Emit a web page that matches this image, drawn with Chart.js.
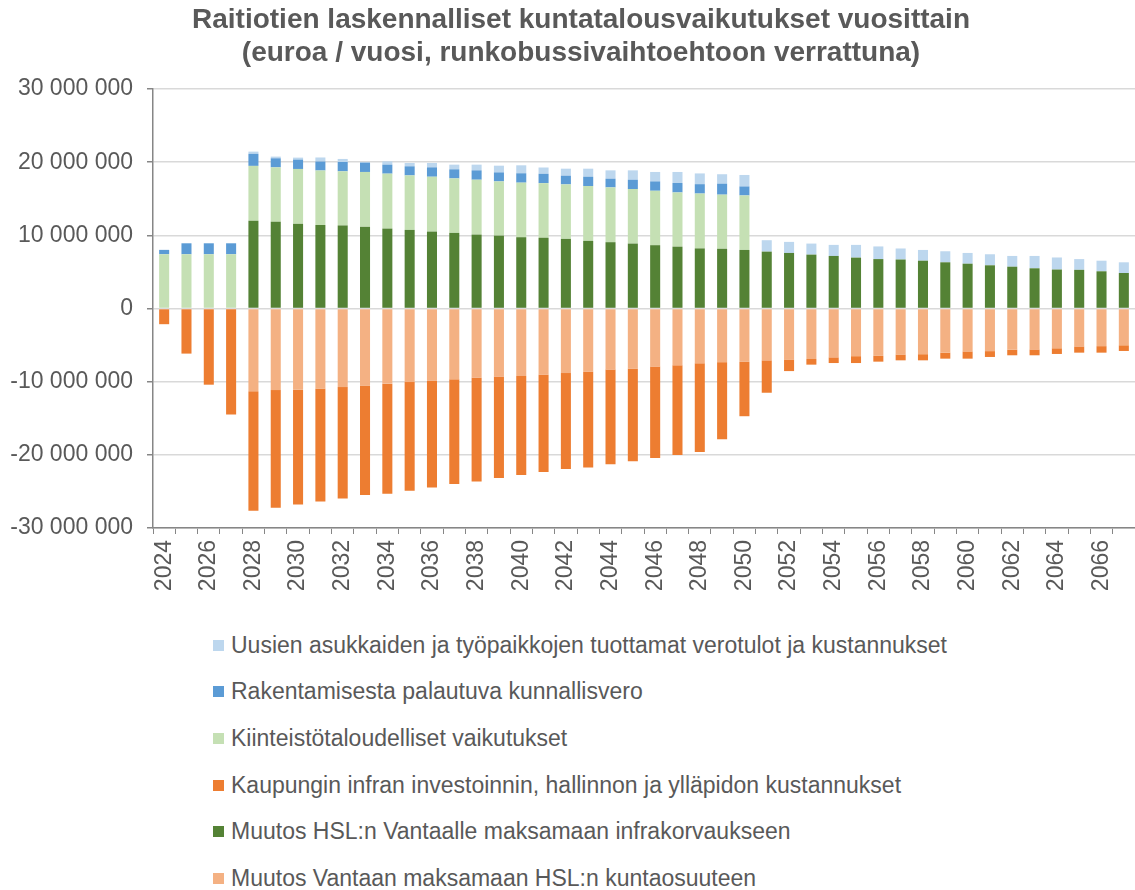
<!DOCTYPE html>
<html>
<head>
<meta charset="utf-8">
<script src="https://cdn.jsdelivr.net/npm/chart.js@4"></script>
<style>
  body { margin: 0; background: #fff; }
  #wrap { position: relative; width: 1135px; height: 890px; }
  #chart { position: absolute; left: 0; top: 0; }
  .leg { position: absolute; left: 0; font: 23px "Liberation Sans", Arial, sans-serif; color: #595959; white-space: nowrap; line-height: 26px; }
  .leg i { position: absolute; top: 8px; width: 11px; height: 11px; }
  .leg span { position: absolute; top: 0; }
</style>
</head>
<body>
<div id="wrap">
  <canvas id="chart" width="1135" height="610"></canvas>
  <div id="legend"></div>
</div>
<script>
const years = ['2024', '2025', '2026', '2027', '2028', '2029', '2030', '2031', '2032', '2033',
    '2034', '2035', '2036', '2037', '2038', '2039', '2040', '2041', '2042', '2043',
    '2044', '2045', '2046', '2047', '2048', '2049', '2050', '2051', '2052', '2053',
    '2054', '2055', '2056', '2057', '2058', '2059', '2060', '2061', '2062', '2063',
    '2064', '2065', '2066', '2067'];

// euroa / vuosi
const infrakorvaus = [0, 0, 0, 0,
    12.0e6, 11.85e6, 11.58e6, 11.42e6, 11.36e6, 11.17e6, 10.93e6, 10.75e6, 10.52e6, 10.34e6,
    10.11e6, 9.97e6, 9.75e6, 9.68e6, 9.52e6, 9.25e6, 9.07e6, 8.88e6, 8.66e6, 8.46e6,
    8.22e6, 8.17e6, 8.01e6,
    7.78e6, 7.6e6, 7.37e6, 7.19e6, 6.96e6, 6.76e6, 6.7e6, 6.54e6, 6.32e6, 6.13e6,
    5.91e6, 5.72e6, 5.5e6, 5.33e6, 5.29e6, 5.09e6, 4.86e6];
const kiinteisto = [7.42e6, 7.42e6, 7.42e6, 7.42e6,
    7.5e6, 7.45e6, 7.5e6, 7.45e6, 7.4e6, 7.5e6, 7.51e6, 7.45e6, 7.5e6, 7.45e6,
    7.5e6, 7.41e6, 7.46e6, 7.46e6, 7.45e6, 7.5e6, 7.49e6, 7.46e6, 7.44e6, 7.41e6,
    7.5e6, 7.4e6, 7.45e6,
    0, 0, 0, 0, 0, 0, 0, 0, 0, 0, 0, 0, 0, 0, 0, 0, 0];
const rakentaminen = [0.6e6, 1.5e6, 1.5e6, 1.5e6,
    1.65e6, 1.24e6, 1.28e6, 1.23e6, 1.27e6, 1.27e6, 1.23e6, 1.24e6, 1.28e6, 1.24e6,
    1.28e6, 1.23e6, 1.28e6, 1.28e6, 1.19e6, 1.27e6, 1.19e6, 1.27e6, 1.28e6, 1.29e6,
    1.28e6, 1.5e6, 1.23e6,
    0, 0, 0, 0, 0, 0, 0, 0, 0, 0, 0, 0, 0, 0, 0, 0, 0];
const uudetAsukkaat = [0, 0, 0, 0,
    0.3e6, 0.23e6, 0.27e6, 0.55e6, 0.42e6, 0.1e6, 0.45e6, 0.46e6, 0.6e6, 0.64e6,
    0.78e6, 0.92e6, 1.09e6, 0.86e6, 0.96e6, 1.1e6, 1.14e6, 1.28e6, 1.29e6, 1.51e6,
    1.47e6, 1.29e6, 1.57e6,
    1.56e6, 1.51e6, 1.51e6, 1.51e6, 1.74e6, 1.73e6, 1.51e6, 1.47e6, 1.51e6, 1.47e6,
    1.51e6, 1.47e6, 1.69e6, 1.65e6, 1.47e6, 1.45e6, 1.46e6];
const kuntaosuus = [0, 0, 0, 0,
    -11.29e6, -11.15e6, -11.1e6, -10.92e6, -10.74e6, -10.51e6, -10.27e6, -10.05e6, -9.82e6, -9.68e6,
    -9.41e6, -9.3e6, -9.22e6, -9.0e6, -8.82e6, -8.59e6, -8.35e6, -8.18e6, -7.94e6, -7.76e6,
    -7.49e6, -7.33e6, -7.29e6,
    -7.08e6, -6.96e6, -6.9e6, -6.67e6, -6.51e6, -6.47e6, -6.28e6, -6.24e6, -6.03e6, -5.86e6,
    -5.82e6, -5.63e6, -5.59e6, -5.43e6, -5.18e6, -5.14e6, -5.02e6];
const infraKustannukset = [-2.14e6, -6.16e6, -10.41e6, -14.49e6,
    -16.36e6, -16.09e6, -15.69e6, -15.46e6, -15.23e6, -14.99e6, -15.05e6, -14.86e6, -14.64e6, -14.31e6,
    -14.22e6, -13.87e6, -13.54e6, -13.35e6, -13.11e6, -13.13e6, -12.95e6, -12.71e6, -12.49e6, -12.25e6,
    -12.11e6, -10.54e6, -7.43e6,
    -4.43e6, -1.59e6, -0.77e6, -0.78e6, -0.94e6, -0.79e6, -0.8e6, -0.84e6, -0.82e6, -0.99e6,
    -0.8e6, -0.76e6, -0.8e6, -0.78e6, -0.85e6, -0.89e6, -0.78e6];

// stack order: first dataset sits next to the zero line
const series = [
    { label: 'Muutos HSL:n Vantaalle maksamaan infrakorvaukseen', data: infrakorvaus, color: '#548235' },
    { label: 'Kiinteistötaloudelliset vaikutukset', data: kiinteisto, color: '#c5e0b4' },
    { label: 'Rakentamisesta palautuva kunnallisvero', data: rakentaminen, color: '#5b9bd5' },
    { label: 'Uusien asukkaiden ja työpaikkojen tuottamat verotulot ja kustannukset', data: uudetAsukkaat, color: '#bdd7ee' },
    { label: 'Muutos Vantaan maksamaan HSL:n kuntaosuuteen', data: kuntaosuus, color: '#f4b183' },
    { label: 'Kaupungin infran investoinnin, hallinnon ja ylläpidon kustannukset', data: infraKustannukset, color: '#ed7d31' },
];
// legend order as in the original figure
const legendOrder = [3, 2, 1, 5, 0, 4];

const FONT = '"Liberation Sans", Arial, sans-serif';
const TEXT = '#595959';
const AXIS = '#868686';

function fmt(v) {
    return String(v).replace(/\B(?=(\d{3})+(?!\d))/g, ' ');
}

// original title sits a bit right of the canvas centre
const titleNudge = {
    id: 'titleNudge',
    afterLayout(chart) {
        if (chart.titleBlock) chart.titleBlock.left = 27;
    },
};

new Chart(document.getElementById('chart'), {
    type: 'bar',
    data: {
        labels: years,
        datasets: series.map(s => ({
            label: s.label,
            data: s.data,
            backgroundColor: s.color,
            borderWidth: 0,
            barPercentage: 0.45,
            categoryPercentage: 1,
        })),
    },
    plugins: [titleNudge],
    options: {
        responsive: false,
        animation: false,
        layout: { padding: 0 },
        plugins: {
            legend: { display: false },
            tooltip: { enabled: false },
            title: {
                display: true,
                text: ['Raitiotien laskennalliset kuntatalousvaikutukset vuosittain',
                    '(euroa / vuosi, runkobussivaihtoehtoon verrattuna)'],
                color: TEXT,
                font: { family: FONT, size: 28, weight: 'bold', lineHeight: 1.18 },
                padding: { top: 4, bottom: 19 },
            },
        },
        scales: {
            x: {
                stacked: true,
                // plot runs right up to the canvas edge like the original
                afterFit: (scale) => { scale.height = 82; scale.paddingRight = 0; scale.paddingLeft = 0; },
                grid: { offset: true, drawOnChartArea: false, tickLength: 6, tickColor: AXIS },
                border: { color: AXIS, width: 1.5 },
                ticks: {
                    autoSkip: false,
                    minRotation: 90,
                    maxRotation: 90,
                    padding: 6,
                    color: TEXT,
                    font: { family: FONT, size: 23 },
                    callback: (v, i) => (i % 2 === 0 ? years[i] : ''),
                },
            },
            y: {
                stacked: true,
                min: -30000000,
                max: 30000000,
                afterFit: (scale) => { scale.width = 153; },
                grid: { color: '#d9d9d9', lineWidth: 1.5, tickLength: 6, tickColor: AXIS },
                border: { color: AXIS, width: 1.5 },
                ticks: {
                    stepSize: 10000000,
                    padding: 14,
                    color: TEXT,
                    font: { family: FONT, size: 23 },
                    callback: (v) => fmt(v),
                },
            },
        },
    },
});

// legend, one entry per row like in the original
const legendTops = [632, 678, 725, 772, 818, 865];
const legendEl = document.getElementById('legend');
legendOrder.forEach((idx, row) => {
    const item = document.createElement('div');
    item.className = 'leg';
    item.style.top = legendTops[row] + 'px';
    const box = document.createElement('i');
    box.style.left = '213px';
    box.style.background = series[idx].color;
    const txt = document.createElement('span');
    txt.style.left = '231px';
    txt.textContent = series[idx].label;
    item.appendChild(box);
    item.appendChild(txt);
    legendEl.appendChild(item);
});
</script>
</body>
</html>
